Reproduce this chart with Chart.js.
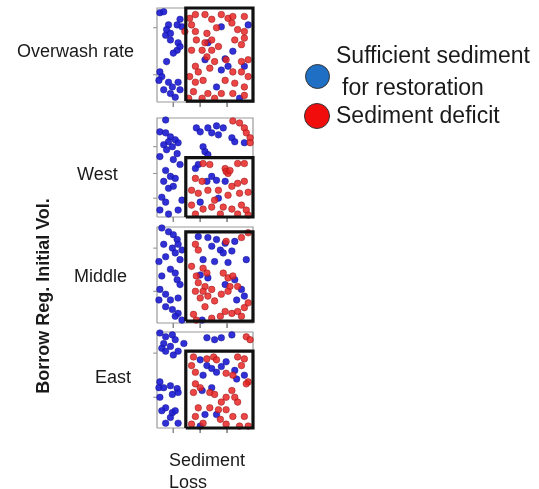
<!DOCTYPE html>
<html>
<head>
<meta charset="utf-8">
<script src="https://cdn.jsdelivr.net/npm/chart.js@4/dist/chart.umd.min.js"></script>
<style>
  html, body { margin: 0; padding: 0; background: #ffffff; }
  #wrap { position: relative; width: 539px; height: 489px; overflow: hidden; font-family: "Liberation Sans", Arial, sans-serif; color: #1a1a1a; }
  #c { position: absolute; left: 0; top: 0; }
  .lbl { position: absolute; white-space: nowrap; font-size: 18px; line-height: 18px; }
  .leg { position: absolute; white-space: nowrap; font-size: 23px; line-height: 23px; }
  .dot { position: absolute; border-radius: 50%; box-sizing: border-box; border: 1.5px solid #333; }
</style>
</head>
<body>
<div id="wrap">
  <canvas id="c" width="539" height="489"></canvas>
</div>
<script>
// ---------- DATA (normalised 0-100 within each panel: x = sediment loss, y = parameter) ----------
const panelNames = ["Overwash rate", "West", "Middle", "East"];
const seriesNames = ["Sufficient sediment\n for restoration", "Sediment deficit"];

const overwashBlue = [[3,95],[7,96],[12,82],[10,77],[21,82],[24,88],[26,80],[9,71],[14,73],[14,66],[22,63],[21,55],[24,59],[17,52],[10,43],[3,32],[5,27],[2,23],[12,21],[16,16],[14,9],[19,5],[22,21],[24,13],[7,13],[67,80],[95,82],[53,63],[79,54],[71,46],[67,34],[62,16],[74,38],[91,38],[86,4],[50,45]];
const overwashRed = [[34,89],[40,93],[50,93],[57,88],[67,93],[74,89],[79,91],[91,91],[36,82],[29,75],[40,75],[52,73],[62,79],[78,84],[84,77],[91,75],[41,66],[50,63],[57,66],[64,59],[81,66],[88,61],[91,68],[36,55],[47,55],[57,55],[52,48],[60,43],[72,45],[88,43],[95,45],[40,38],[43,32],[55,36],[79,32],[88,32],[95,27],[34,27],[40,21],[48,23],[71,23],[81,20],[91,16],[38,11],[53,9],[67,9],[79,9],[91,7],[33,4],[47,4],[60,4]];

const westBlue = [[9,98],[3,86],[9,85],[14,81],[12,76],[19,78],[22,75],[7,73],[10,68],[16,71],[21,64],[17,58],[3,61],[24,53],[9,47],[14,41],[7,36],[19,39],[12,29],[17,31],[5,20],[9,15],[3,7],[12,3],[22,7],[26,17],[41,90],[45,86],[53,90],[57,85],[62,92],[69,90],[64,83],[78,80],[81,76],[91,75],[48,71],[50,66],[53,63],[43,53],[40,49],[57,41],[62,37],[52,36],[71,36],[64,19],[45,15]];
const westRed = [[79,97],[86,95],[91,90],[93,85],[97,80],[97,75],[48,54],[55,53],[71,49],[72,46],[74,44],[76,47],[84,54],[91,54],[40,39],[47,36],[36,27],[43,24],[53,27],[64,27],[78,31],[84,34],[91,36],[95,25],[86,24],[74,22],[60,17],[36,12],[48,8],[57,10],[69,10],[78,8],[88,12],[93,7],[40,3],[66,3],[84,3],[95,2]];

const middleBlue = [[5,99],[12,95],[17,92],[21,87],[7,82],[16,78],[22,82],[26,76],[19,73],[9,69],[24,66],[2,64],[14,56],[19,52],[5,49],[21,45],[24,40],[3,35],[9,30],[2,24],[14,24],[22,26],[9,17],[16,14],[22,10],[26,3],[19,7],[43,90],[53,89],[62,87],[71,83],[81,85],[57,80],[66,76],[69,73],[78,75],[48,66],[60,64],[74,63],[93,66],[45,50],[53,47],[71,40],[81,45],[88,35],[91,28],[83,24],[47,3]];
const middleRed = [[40,82],[43,76],[72,85],[88,89],[95,94],[36,59],[48,57],[41,49],[52,52],[43,42],[50,38],[40,33],[48,33],[57,35],[53,28],[45,26],[69,52],[74,47],[79,49],[76,38],[74,33],[84,38],[67,30],[60,23],[50,17],[38,9],[71,12],[78,10],[84,12],[91,16],[95,21],[66,7],[57,5],[88,7],[41,3]];

const eastBlue = [[3,99],[9,95],[16,97],[19,92],[7,88],[5,83],[9,80],[14,85],[17,76],[22,80],[28,88],[52,94],[60,92],[67,94],[78,97],[2,42],[3,48],[7,42],[14,44],[21,41],[22,37],[16,35],[3,32],[9,21],[16,16],[19,18],[14,11],[5,18],[9,5],[22,5],[45,71],[52,65],[57,62],[62,58],[67,64],[72,69],[81,60],[91,55],[83,51],[48,55],[57,42],[47,39],[50,14],[62,14],[45,2]];
const eastRed = [[93,95],[97,92],[38,74],[52,72],[59,74],[62,71],[84,74],[91,72],[88,65],[36,65],[40,58],[72,57],[79,55],[95,48],[40,46],[45,42],[38,37],[55,37],[60,35],[78,39],[93,46],[72,32],[81,32],[67,27],[84,27],[43,21],[55,21],[64,19],[72,19],[79,12],[91,12],[40,12],[36,4],[48,5],[66,9],[72,4],[86,2],[95,2]];

// deficit-region boxes per panel: [xMin, xMax, yMin, yMax] (normalised)
const deficitBoxes = [[30,100,1,100],[30,100,0,60],[30,100,2,95],[30,100,0,80]];
// tick positions (normalised)
const xTickVals = [17, 45, 73];
const yTickVals = [[79,29],[71,44,19],[78,33],[78,32]];

// ---------- LAYOUT ----------
const panelPx = [[8,102],[118,217],[227,323],[332,428]];
const blueSets = [overwashBlue, westBlue, middleBlue, eastBlue];
const redSets = [overwashRed, westRed, middleRed, eastRed];

function toY(k, v) { const [t,b] = panelPx[k]; return b - v/100*(b-t); }
function pts(k, arr) { return arr.map(([x,y]) => ({x: x, y: toY(k, y)})); }

const datasets = [];
for (let k = 0; k < 4; k++) {
  const [x0,x1,y0,y1] = deficitBoxes[k];
  datasets.push({ type:'line', label:'box'+k, order:0, data:[{x:x0,y:toY(k,y0)},{x:x1,y:toY(k,y0)},{x:x1,y:toY(k,y1)},{x:x0,y:toY(k,y1)},{x:x0,y:toY(k,y0)}],
    borderColor:'#111', borderWidth:3.2, pointRadius:0, fill:false, tension:0, clip:false, borderJoinStyle:'miter' });
  datasets.push({ type:'scatter', label:'red'+k, order:1, data: pts(k, redSets[k]),
    backgroundColor:'rgba(232,36,36,0.85)', borderColor:'rgba(150,20,20,0.5)', borderWidth:1, pointRadius:3.3, clip:false });
  datasets.push({ type:'scatter', label:'blue'+k, order:2, data: pts(k, blueSets[k]),
    backgroundColor:'rgba(30,30,210,0.92)', borderColor:'rgba(20,20,140,0.45)', borderWidth:1, pointRadius:3.3, clip:false });
  datasets.push({ type:'line', label:'frame'+k, order:3, data:[{x:0,y:toY(k,0)},{x:100,y:toY(k,0)},{x:100,y:toY(k,100)},{x:0,y:toY(k,100)},{x:0,y:toY(k,0)}],
    borderColor:'#9a9a9a', borderWidth:1.2, pointRadius:0, fill:false, tension:0, clip:false });
  const tk = [];
  xTickVals.forEach(v => { tk.push({x:v,y:toY(k,0)},{x:v,y:toY(k,0)+5},{x:v,y:null}); });
  yTickVals[k].forEach(v => { tk.push({x:0,y:toY(k,v)},{x:-4,y:toY(k,v)},{x:null,y:null}); });
  datasets.push({ type:'line', label:'ticks'+k, order:4, data: tk, borderColor:'#8a8a8a', borderWidth:1, pointRadius:0, spanGaps:false, clip:false });
}

new Chart(document.getElementById('c'), {
  data: { datasets },
  options: {
    responsive:false, animation:false, devicePixelRatio:1,
    layout:{ padding:{ left:157, right:286, top:8, bottom:61 } },
    plugins:{ legend:{display:false}, tooltip:{enabled:false} },
    scales:{
      x:{ type:'linear', display:false, min:0, max:100 },
      y:{ type:'linear', display:false, min:8, max:428, reverse:true }
    }
  }
});

// ---------- TEXT ----------
const wrap = document.getElementById('wrap');
function addText(cls, txt, left, top, extra) {
  const d = document.createElement('div'); d.className = cls; d.textContent = txt;
  d.style.left = left + 'px'; d.style.top = top + 'px';
  if (extra) Object.assign(d.style, extra);
  wrap.appendChild(d); return d;
}
const labelPos = [[17,42],[77,165],[74,267],[95,368]];
panelNames.forEach((n,i) => addText('lbl', n, labelPos[i][0], labelPos[i][1]));
addText('lbl', 'Sediment', 169, 451);
addText('lbl', 'Loss', 169, 473);
addText('lbl', 'Borrow Reg. Initial Vol.', -67, 287, {width:'220px', textAlign:'center', fontWeight:'bold', transform:'rotate(-90deg)', transformOrigin:'50% 50%'});

const lines = seriesNames[0].split('\n');
addText('leg', lines[0], 336, 44);
addText('leg', lines[1].trim(), 342, 76);
addText('leg', seriesNames[1], 336, 104);
function dot(left, top, size, color) {
  const d = document.createElement('div'); d.className = 'dot';
  Object.assign(d.style, {left:left+'px', top:top+'px', width:size+'px', height:size+'px', background:color});
  wrap.appendChild(d);
}
dot(305, 64, 25, '#1f6fc4');
dot(304, 103, 26, '#f20d0d');
</script>
</body>
</html>
